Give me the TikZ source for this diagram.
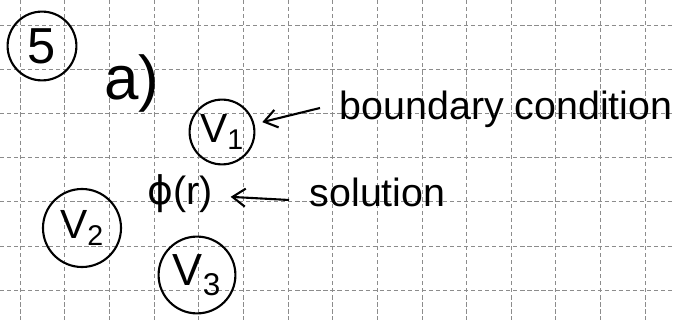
\documentclass[tikz,border=0pt]{standalone}
\usepackage{fontspec}
\setmainfont{Liberation Sans}
\newfontfamily\greekfont{DejaVu Sans}
\usetikzlibrary{arrows.meta, positioning}

\begin{document}
\begin{tikzpicture}[x=0.025cm, y=-0.025cm,
    grid/.style={black!45, densely dashed, line width=0.5pt},
    ring/.style={draw, circle, line width=1.5pt, inner sep=0pt},
    hand/.style={font=\fontsize{28}{32}\selectfont, inner sep=1pt},
    pointer/.style={-{Straight Barb[length=3.2mm, width=4.5mm]}, line width=1.5pt}]
    \useasboundingbox (0,0) rectangle (673,320);
    % grid of the paper
    \foreach \i in {0,...,14}
      \draw[grid] (20+44.65*\i, 0) -- (20+44.65*\i, 320);
    \foreach \j in {0,...,6}
      \draw[grid] (0, 25+44.2*\j) -- (673, 25+44.2*\j);
    % question number and part
    \node[ring, minimum size=1.72cm, font=\fontsize{36}{40}\selectfont] (num) at (42, 46) {5};
    \node[hand, anchor=base, font=\fontsize{44}{48}\selectfont] (parta) at (132, 100) {a)};
    % the three boundaries
    \node[ring, minimum size=1.62cm, font=\fontsize{29}{33}\selectfont] (vone) at (222, 132) {V\textsubscript{1}};
    \node[ring, minimum size=1.95cm, font=\fontsize{29}{33}\selectfont] (vtwo) at (82, 228) {V\textsubscript{2}};
    \node[ring, minimum size=1.92cm, font=\fontsize{32}{36}\selectfont] (vthree) at (197, 275) {V\textsubscript{3}};
    % labels
    \node[hand, anchor=base west] (phi) at (146, 205) {{\greekfont ϕ}(r)};
    \node[hand, anchor=base west] (bc) at (338, 120) {boundary condition};
    \node[hand, anchor=base west] (sol) at (308, 207) {solution};
    % arrows
    \coordinate (bctail) at (320, 108);
    \coordinate (soltail) at (289, 200);
    \draw[pointer, shorten >=2mm] (bctail) -- (vone);
    \draw[pointer, shorten >=4mm] (soltail) -- (phi);
\end{tikzpicture}
\end{document}
